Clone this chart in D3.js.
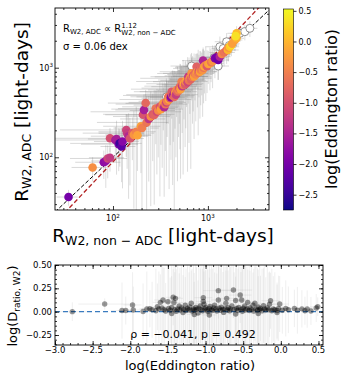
<!DOCTYPE html>
<html>
<head>
<meta charset="utf-8">
<script src="https://cdn.jsdelivr.net/npm/d3@7"></script>
<style>
    body { margin: 0; background: #fff; }
    svg { font-family: "DejaVu Sans", sans-serif; }
</style>
</head>
<body>
<div id="chart"></div>
<script>
// top panel: [R_W2 non-ADC, R_W2 ADC (light-days), log Eddington ratio, frac. err x, frac. err y]
const adcPoints = [
    [34, 36, -2.0, 0.25, 0.2], [61, 77, -0.35, 0.4, 0.3], [80, 88, -1.8, 0.5, 0.35],
    [84, 91, -1.75, 0.3, 0.5], [88, 97, -1.1, 0.6, 0.4], [93, 99, -1.25, 0.4, 0.3],
    [93, 163, -1.0, 0.75, 0.3], [106, 156, -1.6, 0.8, 0.4], [109, 160, -1.55, 0.5, 0.6],
    [115, 140, -1.9, 0.6, 0.5], [118, 143, -2.5, 0.7, 0.45], [123, 132, -2.2, 0.4, 0.6],
    [126, 150, -1.85, 0.5, 0.7], [138, 202, -1.1, 0.8, 0.5], [141, 186, -1.2, 0.5, 0.6],
    [146, 172, -1.45, 0.6, 0.8], [151, 162, -0.95, 0.4, 0.7], [160, 186, -0.85, 0.7, 0.5],
    [166, 178, -0.3, 0.5, 0.85], [176, 193, -0.5, 0.6, 0.9], [181, 176, -0.15, 0.4, 0.6],
    [197, 222, -0.2, 0.6, 0.7], [202, 212, -0.5, 0.5, 0.9], [207, 298, -0.95, 0.6, 0.4],
    [212, 337, -1.55, 0.5, 0.5], [221, 403, -0.75, 0.6, 0.4], [226, 245, -0.6, 0.7, 0.95],
    [238, 268, -1.3, 0.5, 0.8], [250, 285, -0.35, 0.6, 0.9], [262, 302, -0.9, 0.7, 0.7],
    [272, 296, -0.8, 0.5, 0.9], [282, 350, -0.6, 0.6, 0.6], [290, 322, -1.05, 0.8, 0.8],
    [300, 333, -0.4, 0.5, 0.7], [312, 366, -1.0, 0.6, 0.9], [320, 345, -0.2, 0.7, 0.6],
    [330, 382, -0.7, 0.5, 0.8], [339, 400, -0.3, 0.6, 0.5], [346, 362, -1.45, 0.4, 0.9],
    [356, 392, -0.6, 0.7, 0.7], [365, 410, -1.15, 0.6, 0.85], [372, 422, -0.5, 0.5, 0.6],
    [382, 474, -0.6, 0.6, 0.5], [390, 442, -0.1, 0.7, 0.9], [400, 456, -0.9, 0.5, 0.7],
    [408, 468, -1.85, 0.4, 0.8], [415, 540, -0.9, 0.6, 0.5], [425, 490, -0.4, 0.7, 0.9],
    [432, 497, -1.6, 0.5, 0.7], [442, 472, -0.7, 0.6, 0.95], [450, 522, -0.3, 0.5, 0.6],
    [460, 500, -1.2, 0.7, 0.8], [468, 564, -0.4, 0.5, 0.5], [478, 540, -0.8, 0.6, 0.9],
    [490, 562, -0.5, 0.4, 0.7], [500, 592, -1.0, 0.6, 0.6], [507, 614, -0.7, 0.5, 0.8],
    [515, 576, -0.2, 0.7, 0.9], [528, 698, -0.5, 0.5, 0.5], [535, 622, -1.3, 0.6, 0.7],
    [548, 642, -0.6, 0.4, 0.9], [560, 662, -0.1, 0.6, 0.6], [575, 650, -0.9, 0.5, 0.8],
    [585, 702, -0.4, 0.7, 0.7], [597, 729, -0.1, 0.5, 0.5], [610, 690, -1.1, 0.4, 0.9],
    [621, 794, -1.2, 0.6, 0.5], [632, 722, -0.6, 0.5, 0.8], [645, 762, -0.3, 0.7, 0.6],
    [660, 742, -0.8, 0.4, 0.9], [673, 865, -0.3, 0.5, 0.5], [688, 790, -0.5, 0.6, 0.7],
    [700, 812, -1.0, 0.5, 0.6], [715, 800, -0.2, 0.4, 0.8], [730, 862, -0.7, 0.6, 0.5],
    [745, 840, -0.4, 0.5, 0.7], [760, 1026, -0.8, 0.4, 0.4], [776, 902, -0.1, 0.6, 0.6],
    [790, 880, -0.6, 0.5, 0.8], [805, 932, -1.0, 0.4, 0.5], [824, 902, -0.2, 0.5, 0.7],
    [840, 952, -0.5, 0.4, 0.6], [860, 982, -0.8, 0.5, 0.5], [880, 942, -0.3, 0.3, 0.7],
    [890, 1200, -1.5, 0.4, 0.4], [900, 1002, -0.6, 0.5, 0.6], [920, 1032, -0.1, 0.4, 0.5],
    [950, 1062, -0.4, 0.3, 0.6], [980, 1042, -0.9, 0.4, 0.5], [1010, 1100, -0.2, 0.3, 0.4],
    [1050, 1119, -0.1, 0.4, 0.5], [1080, 1150, -0.6, 0.3, 0.4], [1120, 1182, -0.3, 0.3, 0.5],
    [1185, 1274, -1.9, 0.3, 0.4], [1230, 1300, -2.0, 0.3, 0.3], [1283, 1219, -2.05, 0.3, 0.4],
    [1335, 1327, -1.5, 0.3, 0.3], [1400, 1420, -0.4, 0.25, 0.3], [1480, 1480, -0.6, 0.3, 0.3],
    [1574, 1577, -0.8, 0.25, 0.3], [1620, 1577, 0.0, 0.3, 0.25], [1650, 1680, -0.3, 0.2, 0.3],
    [1706, 1714, 0.15, 0.25, 0.2], [1770, 1790, 0.3, 0.2, 0.25], [1800, 1850, -0.2, 0.2, 0.2],
    [1923, 2037, -0.2, 0.2, 0.25], [2000, 2130, -0.05, 0.2, 0.2], [2004, 2421, 0.05, 0.2, 0.2],
    [1960, 2250, 0.35, 0.15, 0.2]
];

// sources without an Eddington ratio: [R non-ADC, R ADC, frac. err x, frac. err y]
const openPoints = [
    [367, 474, 0.4, 0.5], [673, 1044, 0.4, 0.4], [1283, 1044, 0.3, 0.3], [1160, 1290, 0.3, 0.3],
    [1336, 1714, 0.3, 0.3], [1450, 1640, 0.25, 0.3], [1574, 1950, 0.25, 0.25], [1680, 1770, 0.2, 0.25],
    [2173, 2421, 0.2, 0.2], [2449, 2524, 0.2, 0.2], [2767, 2754, 0.2, 0.2]
];

// bottom panel: [log Eddington ratio, log D_ratio, err x, err y]
const ratioPoints = [
    [-2.77, 0.000, 0.20, 0.10], [-2.34, 0.082, 0.35, 0.06], [-2.11, 0.012, 0.15, 0.30],
    [-2.06, 0.012, 0.10, 0.15], [-1.97, 0.072, 0.12, 0.35], [-1.96, 0.018, 0.10, 0.25],
    [-1.83, 0.002, 0.15, 0.30], [-1.78, 0.030, 0.10, 0.40], [-1.74, 0.032, 0.12, 0.20],
    [-1.71, 0.020, 0.10, 0.30], [-1.66, 0.010, 0.10, 0.45], [-1.64, 0.052, 0.15, 0.25],
    [-1.62, 0.030, 0.20, 0.40], [-1.60, 0.100, 0.10, 0.30], [-1.58, 0.040, 0.10, 0.50],
    [-1.565, 0.125, 0.12, 0.35], [-1.55, 0.020, 0.10, 0.45], [-1.53, 0.008, 0.15, 0.30],
    [-1.50, 0.107, 0.10, 0.40], [-1.49, 0.035, 0.12, 0.50], [-1.47, 0.015, 0.10, 0.35],
    [-1.45, 0.045, 0.20, 0.45], [-1.45, -0.020, 0.10, 0.40], [-1.43, 0.154, 0.10, 0.30],
    [-1.42, 0.098, 0.12, 0.50], [-1.41, 0.022, 0.10, 0.40], [-1.40, 0.143, 0.10, 0.35],
    [-1.39, 0.005, 0.15, 0.45], [-1.37, 0.030, 0.10, 0.50], [-1.35, 0.060, 0.10, 0.35],
    [-1.34, 0.018, 0.20, 0.45], [-1.32, 0.040, 0.10, 0.50], [-1.30, -0.010, 0.15, 0.40],
    [-1.29, 0.025, 0.10, 0.50], [-1.27, 0.070, 0.10, 0.30], [-1.26, 0.012, 0.10, 0.45],
    [-1.24, 0.035, 0.15, 0.50], [-1.22, 0.020, 0.10, 0.40], [-1.21, 0.050, 0.10, 0.50],
    [-1.19, 0.090, 0.12, 0.35], [-1.18, 0.008, 0.10, 0.45], [-1.16, 0.030, 0.15, 0.50],
    [-1.15, 0.015, 0.10, 0.40], [-1.15, -0.030, 0.10, 0.35], [-1.13, 0.045, 0.10, 0.50],
    [-1.12, 0.025, 0.12, 0.45], [-1.10, -0.015, 0.10, 0.35], [-1.09, 0.038, 0.10, 0.50],
    [-1.07, 0.062, 0.15, 0.40], [-1.06, 0.020, 0.10, 0.50], [-1.04, 0.010, 0.10, 0.45],
    [-1.03, 0.150, 0.12, 0.35], [-1.03, 0.110, 0.10, 0.40], [-1.02, 0.080, 0.12, 0.35],
    [-1.01, 0.030, 0.10, 0.50], [-1.00, 0.045, 0.10, 0.40], [-0.98, 0.018, 0.15, 0.50],
    [-0.97, 0.002, 0.10, 0.45], [-0.95, 0.035, 0.10, 0.50], [-0.95, -0.035, 0.10, 0.40],
    [-0.94, 0.055, 0.12, 0.40], [-0.92, 0.022, 0.10, 0.50], [-0.91, 0.012, 0.10, 0.45],
    [-0.89, 0.040, 0.15, 0.50], [-0.88, 0.070, 0.10, 0.35], [-0.86, 0.028, 0.10, 0.50],
    [-0.85, 0.008, 0.10, 0.40], [-0.83, 0.225, 0.20, 0.30], [-0.83, 0.125, 0.10, 0.40],
    [-0.82, 0.036, 0.10, 0.50], [-0.80, 0.015, 0.12, 0.45], [-0.79, 0.048, 0.10, 0.50],
    [-0.77, 0.025, 0.10, 0.40], [-0.76, -0.008, 0.15, 0.50], [-0.74, 0.032, 0.10, 0.45],
    [-0.73, 0.090, 0.10, 0.35], [-0.72, 0.143, 0.10, 0.40], [-0.71, 0.018, 0.10, 0.50],
    [-0.70, 0.042, 0.12, 0.40], [-0.68, 0.010, 0.10, 0.50], [-0.67, 0.028, 0.10, 0.45],
    [-0.65, 0.060, 0.15, 0.50], [-0.63, 0.232, 0.25, 0.30], [-0.62, 0.022, 0.10, 0.40],
    [-0.60, 0.120, 0.10, 0.35], [-0.60, -0.025, 0.10, 0.40], [-0.59, 0.035, 0.10, 0.50],
    [-0.57, 0.012, 0.12, 0.45], [-0.56, 0.045, 0.10, 0.50], [-0.54, 0.178, 0.15, 0.30],
    [-0.53, 0.025, 0.10, 0.40], [-0.52, 0.125, 0.10, 0.35], [-0.51, 0.005, 0.10, 0.50],
    [-0.50, 0.038, 0.15, 0.45], [-0.48, 0.060, 0.10, 0.40], [-0.47, 0.018, 0.10, 0.50],
    [-0.45, 0.030, 0.12, 0.45], [-0.44, 0.100, 0.10, 0.35], [-0.42, 0.012, 0.10, 0.50],
    [-0.41, 0.040, 0.10, 0.40], [-0.39, 0.022, 0.15, 0.50], [-0.37, 0.070, 0.10, 0.35],
    [-0.36, 0.008, 0.10, 0.45], [-0.345, 0.090, 0.12, 0.40], [-0.33, 0.030, 0.10, 0.50],
    [-0.31, 0.015, 0.10, 0.45], [-0.30, -0.020, 0.10, 0.40], [-0.30, 0.050, 0.15, 0.40],
    [-0.28, 0.025, 0.10, 0.50], [-0.27, 0.035, 0.10, 0.35], [-0.25, 0.010, 0.12, 0.45],
    [-0.23, 0.065, 0.10, 0.40], [-0.22, 0.030, 0.10, 0.50], [-0.20, 0.018, 0.15, 0.35],
    [-0.18, 0.040, 0.10, 0.45], [-0.16, 0.020, 0.10, 0.40], [-0.15, 0.080, 0.12, 0.35],
    [-0.137, 0.117, 0.12, 0.30], [-0.12, 0.010, 0.10, 0.45], [-0.10, 0.030, 0.10, 0.35],
    [-0.08, 0.022, 0.15, 0.40], [-0.05, 0.012, 0.10, 0.30], [-0.05, -0.010, 0.10, 0.30],
    [-0.03, 0.035, 0.10, 0.35], [-0.015, 0.082, 0.12, 0.30], [0.02, 0.015, 0.10, 0.25],
    [0.065, 0.035, 0.15, 0.30], [0.10, 0.020, 0.10, 0.25], [0.18, 0.035, 0.15, 0.20],
    [0.22, 0.015, 0.10, 0.25], [0.28, 0.030, 0.10, 0.20], [0.32, 0.010, 0.12, 0.15],
    [0.35, 0.028, 0.10, 0.20], [0.40, 0.008, 0.10, 0.15], [0.47, 0.040, 0.10, 0.15],
    [0.49, 0.053, 0.10, 0.10]
];

const fitSlope = 1.12;
const fitIntercept = -0.29;
const logMajors = [100, 1000];
const colorTicks = [0.5, 0.0, -0.5, -1.0, -1.5, -2.0, -2.5];
const ratioXTicks = [-3.0, -2.5, -2.0, -1.5, -1.0, -0.5, 0.0, 0.5];
const ratioYTicks = [0.50, 0.25, 0.00, -0.25];
const statsText = "ρ = −0.041, p = 0.492";

const svg = d3.select("#chart").append("svg")
    .attr("width", 348)
    .attr("height", 382);

// append a run of tspans (for sub/superscripts)
function richText(sel, parts) {
    parts.forEach(p => {
        sel.append("tspan")
            .attr("font-size", p.size)
            .attr("dy", p.dy || 0)
            .text(p.t);
    });
    return sel;
}

function tickGroup(axis, tx, ty) {
    svg.append("g")
        .attr("transform", `translate(${tx},${ty})`)
        .call(axis)
        .call(g => g.select(".domain").remove())
        .call(g => g.selectAll("line").attr("stroke", "black").attr("stroke-width", 0.8));
}

// ---------------- top panel ----------------
const topBox = { left: 55, right: 269, top: 8, bottom: 210 };

const x = d3.scaleLog().domain([24.5, 4400]).range([topBox.left, topBox.right]);
const y = d3.scaleLog().domain([25.8, 4640]).range([topBox.bottom, topBox.top]);
const color = d3.scaleSequential(d3.interpolatePlasma).domain([-2.75, 0.53]);

svg.append("clipPath").attr("id", "clipTop")
    .append("rect")
    .attr("x", topBox.left).attr("y", topBox.top)
    .attr("width", topBox.right - topBox.left).attr("height", topBox.bottom - topBox.top);

const plotTop = svg.append("g").attr("clip-path", "url(#clipTop)");

const xd = x.domain(), yd = y.domain();
const allTop = adcPoints.map(d => [d[0], d[1], d[3], d[4]]).concat(openPoints);

// error bars
plotTop.append("g")
    .attr("stroke", "#777")
    .attr("stroke-opacity", 0.28)
    .attr("stroke-width", 1)
    .selectAll("line")
    .data(allTop)
    .join("line")
    .attr("x1", d => x(Math.max(d[0] * (1 - d[2]), xd[0])))
    .attr("x2", d => x(d[0] * (1 + d[2])))
    .attr("y1", d => y(d[1]))
    .attr("y2", d => y(d[1]));

plotTop.append("g")
    .attr("stroke", "#777")
    .attr("stroke-opacity", 0.25)
    .attr("stroke-width", 1)
    .selectAll("line")
    .data(allTop)
    .join("line")
    .attr("x1", d => x(d[0]))
    .attr("x2", d => x(d[0]))
    .attr("y1", d => y(Math.max(d[1] * (1 - d[3]), yd[0])))
    .attr("y2", d => y(d[1] * (1 + d[3])));

// one-to-one and fitted relation
plotTop.append("line")
    .attr("x1", x(xd[0])).attr("y1", y(xd[0]))
    .attr("x2", x(xd[1])).attr("y2", y(xd[1]))
    .attr("stroke", "black")
    .attr("stroke-width", 1)
    .attr("stroke-dasharray", "4,2");

const fitY = v => Math.pow(10, fitIntercept) * Math.pow(v, fitSlope);
plotTop.append("line")
    .attr("x1", x(xd[0])).attr("y1", y(fitY(xd[0])))
    .attr("x2", x(xd[1])).attr("y2", y(fitY(xd[1])))
    .attr("stroke", "#b22222")
    .attr("stroke-width", 1.3)
    .attr("stroke-dasharray", "4.5,2.5");

// open markers (no Eddington ratio)
plotTop.append("g")
    .selectAll("circle")
    .data(openPoints)
    .join("circle")
    .attr("cx", d => x(d[0]))
    .attr("cy", d => y(d[1]))
    .attr("r", 4)
    .attr("fill", "white")
    .attr("stroke", "#777")
    .attr("stroke-width", 0.8);

plotTop.append("g")
    .selectAll("circle")
    .data(adcPoints)
    .join("circle")
    .attr("cx", d => x(d[0]))
    .attr("cy", d => y(d[1]))
    .attr("r", 4.3)
    .attr("fill", d => color(d[2]));

// ticks (inward, on all four sides)
const minorLog = [];
[10, 100, 1000].forEach(dec => {
    for (let k = 2; k <= 9; k++) minorLog.push(dec * k);
});

[[d3.axisBottom, topBox.bottom], [d3.axisTop, topBox.top]].forEach(([ax, ty]) => {
    tickGroup(ax(x).tickValues(logMajors).tickSize(-4).tickFormat(""), 0, ty);
    tickGroup(ax(x).tickValues(minorLog.filter(v => v > xd[0] && v < xd[1])).tickSize(-2).tickFormat(""), 0, ty);
});
[[d3.axisLeft, topBox.left], [d3.axisRight, topBox.right]].forEach(([ax, tx]) => {
    tickGroup(ax(y).tickValues(logMajors).tickSize(-4).tickFormat(""), tx, 0);
    tickGroup(ax(y).tickValues(minorLog.filter(v => v > yd[0] && v < yd[1])).tickSize(-2).tickFormat(""), tx, 0);
});

svg.append("rect")
    .attr("x", topBox.left).attr("y", topBox.top)
    .attr("width", topBox.right - topBox.left).attr("height", topBox.bottom - topBox.top)
    .attr("fill", "none")
    .attr("stroke", "black")
    .attr("stroke-width", 0.9);

// tick labels 10^n
logMajors.forEach(v => {
    const e = String(Math.round(Math.log10(v)));
    richText(svg.append("text")
        .attr("x", x(v)).attr("y", topBox.bottom + 11)
        .attr("text-anchor", "middle"),
        [{ t: "10", size: 8 }, { t: e, size: 5.6, dy: -3.5 }]);
    richText(svg.append("text")
        .attr("x", topBox.left - 2).attr("y", y(v) + 3)
        .attr("text-anchor", "end"),
        [{ t: "10", size: 8 }, { t: e, size: 5.6, dy: -3.5 }]);
});

// axis titles
richText(svg.append("text")
    .attr("x", 163).attr("y", 242)
    .attr("text-anchor", "middle"),
    [{ t: "R", size: 18.5 }, { t: "W2, non − ADC", size: 12.5, dy: 3 }, { t: " [light-days]", size: 18.5, dy: -3 }]);

richText(svg.append("text")
    .attr("transform", "translate(28,112) rotate(-90)")
    .attr("text-anchor", "middle"),
    [{ t: "R", size: 18.5 }, { t: "W2, ADC", size: 12.5, dy: 3 }, { t: " [light-days]", size: 18.5, dy: -3 }]);

// annotation
const ann = richText(svg.append("text").attr("x", 63).attr("y", 32),
    [{ t: "R", size: 10 }, { t: "W2, ADC", size: 7, dy: 2.2 }, { t: " ∝ R", size: 10, dy: -2.2 }]);
const annEnd = 63 + ann.node().getComputedTextLength();
svg.append("text").attr("x", annEnd).attr("y", 27.5).attr("font-size", 7).text("1.12");
svg.append("text").attr("x", annEnd).attr("y", 34.5).attr("font-size", 7).text("W2, non − ADC");

svg.append("text")
    .attr("x", 63).attr("y", 50)
    .attr("font-size", 10)
    .text("σ =  0.06 dex");

// ---------------- colorbar ----------------
const cb = { left: 283.5, width: 10, top: 9, bottom: 210 };
const cy = d3.scaleLinear().domain(color.domain()).range([cb.bottom, cb.top]);

const grad = svg.append("defs").append("linearGradient")
    .attr("id", "plasmaGrad")
    .attr("x1", 0).attr("y1", 1).attr("x2", 0).attr("y2", 0);
d3.range(0, 1.0001, 0.05).forEach(t => {
    grad.append("stop")
        .attr("offset", t)
        .attr("stop-color", d3.interpolatePlasma(t));
});

svg.append("rect")
    .attr("x", cb.left).attr("y", cb.top)
    .attr("width", cb.width).attr("height", cb.bottom - cb.top)
    .attr("fill", "url(#plasmaGrad)")
    .attr("stroke", "black")
    .attr("stroke-width", 0.6);

svg.append("g")
    .attr("transform", `translate(${cb.left + cb.width},0)`)
    .call(d3.axisRight(cy).tickValues(colorTicks).tickSize(3).tickPadding(2).tickFormat(d3.format(".1f")))
    .call(g => g.select(".domain").remove())
    .call(g => g.selectAll("text").attr("font-size", 8).attr("font-family", "DejaVu Sans").attr("fill", "black"))
    .call(g => g.selectAll("line").attr("stroke", "black").attr("stroke-width", 0.8));

svg.append("text")
    .attr("transform", "translate(337,109) rotate(-90)")
    .attr("text-anchor", "middle")
    .attr("font-size", 16)
    .text("log(Eddington ratio)");

// ---------------- bottom panel ----------------
const bot = { left: 55, right: 323, top: 265, bottom: 345 };
const bx = d3.scaleLinear().domain([-3.0, 0.56]).range([bot.left, bot.right]);
const by = d3.scaleLinear().domain([-0.357, 0.5]).range([bot.bottom, bot.top]);

svg.append("clipPath").attr("id", "clipBot")
    .append("rect")
    .attr("x", bot.left).attr("y", bot.top)
    .attr("width", bot.right - bot.left).attr("height", bot.bottom - bot.top);

const plotBot = svg.append("g").attr("clip-path", "url(#clipBot)");

plotBot.append("g")
    .attr("stroke", "#999")
    .attr("stroke-opacity", 0.16)
    .attr("stroke-width", 1)
    .selectAll("line")
    .data(ratioPoints)
    .join("line")
    .attr("x1", d => bx(d[0]))
    .attr("x2", d => bx(d[0]))
    .attr("y1", d => by(d[1] - d[3]))
    .attr("y2", d => by(d[1] + d[3]));

plotBot.append("g")
    .attr("stroke", "#999")
    .attr("stroke-opacity", 0.16)
    .attr("stroke-width", 1)
    .selectAll("line")
    .data(ratioPoints)
    .join("line")
    .attr("x1", d => bx(d[0] - d[2]))
    .attr("x2", d => bx(d[0] + d[2]))
    .attr("y1", d => by(d[1]))
    .attr("y2", d => by(d[1]));

plotBot.append("line")
    .attr("x1", bot.left).attr("x2", bot.right)
    .attr("y1", by(0)).attr("y2", by(0))
    .attr("stroke", "#3a7bbf")
    .attr("stroke-width", 1.4)
    .attr("stroke-dasharray", "5,3");

plotBot.append("g")
    .selectAll("circle")
    .data(ratioPoints)
    .join("circle")
    .attr("cx", d => bx(d[0]))
    .attr("cy", d => by(d[1]))
    .attr("r", 2.7)
    .attr("fill", "black")
    .attr("fill-opacity", 0.4);

const xMinor = d3.range(-30, 6).map(v => v / 10);
const yMinor = d3.range(-7, 11).map(v => v / 20);

tickGroup(d3.axisBottom(bx).tickValues(ratioXTicks).tickSize(-4).tickFormat(""), 0, bot.bottom);
tickGroup(d3.axisBottom(bx).tickValues(xMinor).tickSize(-2).tickFormat(""), 0, bot.bottom);
tickGroup(d3.axisTop(bx).tickValues(ratioXTicks).tickSize(-4).tickFormat(""), 0, bot.top);
tickGroup(d3.axisTop(bx).tickValues(xMinor).tickSize(-2).tickFormat(""), 0, bot.top);
tickGroup(d3.axisLeft(by).tickValues(ratioYTicks).tickSize(-4).tickFormat(""), bot.left, 0);
tickGroup(d3.axisLeft(by).tickValues(yMinor).tickSize(-2).tickFormat(""), bot.left, 0);
tickGroup(d3.axisRight(by).tickValues(ratioYTicks).tickSize(-4).tickFormat(""), bot.right, 0);
tickGroup(d3.axisRight(by).tickValues(yMinor).tickSize(-2).tickFormat(""), bot.right, 0);

svg.append("rect")
    .attr("x", bot.left).attr("y", bot.top)
    .attr("width", bot.right - bot.left).attr("height", bot.bottom - bot.top)
    .attr("fill", "none")
    .attr("stroke", "black")
    .attr("stroke-width", 0.9);

svg.append("g")
    .selectAll("text")
    .data(ratioXTicks)
    .join("text")
    .attr("x", d => bx(d))
    .attr("y", bot.bottom + 8)
    .attr("text-anchor", "middle")
    .attr("font-size", 8.5)
    .text(d3.format(".1f"));

svg.append("g")
    .selectAll("text")
    .data(ratioYTicks)
    .join("text")
    .attr("x", bot.left - 3)
    .attr("y", d => by(d) + 3)
    .attr("text-anchor", "end")
    .attr("font-size", 8.5)
    .text(d3.format(".2f"));

svg.append("text")
    .attr("x", 193).attr("y", 338)
    .attr("text-anchor", "middle")
    .attr("font-size", 11)
    .text(statsText);

svg.append("text")
    .attr("x", 190).attr("y", 370)
    .attr("text-anchor", "middle")
    .attr("font-size", 13)
    .text("log(Eddington ratio)");

richText(svg.append("text")
    .attr("transform", "translate(17,306) rotate(-90)")
    .attr("text-anchor", "middle"),
    [{ t: "log(D", size: 13 }, { t: "ratio, W2", size: 9, dy: 2.5 }, { t: ")", size: 13, dy: -2.5 }]);
</script>
</body>
</html>
